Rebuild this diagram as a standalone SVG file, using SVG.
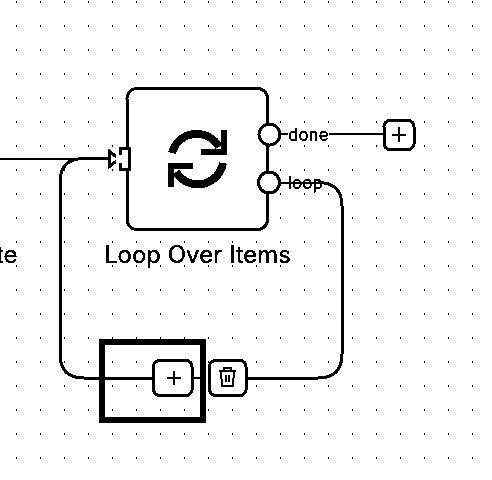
<svg xmlns="http://www.w3.org/2000/svg" width="492" height="480" viewBox="0 0 492 480" shape-rendering="crispEdges">
<defs>
<pattern id="dots" x="16" y="1" width="24" height="24" patternUnits="userSpaceOnUse"><rect width="1" height="2" fill="#000"/></pattern>
<filter id="bilevel" x="-5%" y="-20%" width="110%" height="140%"><feComponentTransfer><feFuncA type="discrete" tableValues="0 1 1 1"/></feComponentTransfer></filter>
</defs>
<style>
.l{fill:none;stroke:#000;stroke-width:2}
.c{fill:none;stroke:#000;stroke-width:3}
.b{fill:#fff;stroke:#000;stroke-width:3}
.t{font-family:"Inter","Liberation Sans",sans-serif;fill:#000;filter:url(#bilevel)}
</style>
<rect width="492" height="480" fill="#fff"/>
<rect width="492" height="480" fill="url(#dots)"/>
<g id="connectors">
<path class="l" d="M0 159H110"/>
<path class="c" d="M154 378H84Q60 378 60 354V182Q60 158.500 84 158.500H110"/>
<path class="l" d="M280 134H288M329 134H384"/>
<path class="l" d="M280 182.500H320"/>
<path class="c" d="M318 182.500Q342 182.500 342 206V354Q342 378 318 378H246"/>
<path class="l" d="M192 378H209"/>
</g>
<g id="highlight"><rect x="102" y="342" width="101" height="78" fill="none" stroke="#000" stroke-width="6"/></g>
<g id="loop-node">
<rect class="b" x="127" y="88.500" width="140.500" height="141" rx="10"/>
<path d="M109 151L119 159L109 167Z" fill="#fff" stroke="#000" stroke-width="3"/>
<rect class="b" x="120.500" y="148" width="9" height="21.500"/>
<rect x="115.500" y="155" width="6.500" height="8" fill="#fff"/>
<path d="M172 153A25.500 25.500 0 0 1 219 147M223 163A25.500 25.500 0 0 1 176 172" fill="none" stroke="#000" stroke-width="8"/>
<path d="M227 130V155H201V149H221V130ZM168 187V163H193V169H174V187Z" fill="#000"/>
<circle class="b" cx="269.500" cy="134.500" r="10.500"/>
<circle class="b" cx="269" cy="182.500" r="10.500"/>
<text class="t" x="288" y="141" font-size="17">done</text>
<text class="t" x="288" y="189" font-size="17">loop</text>
<text class="t" x="197.500" y="263" font-size="24" text-anchor="middle">Loop Over Items</text>
</g>
<g id="left-label"><text class="t" x="-4" y="263" font-size="24">te</text></g>
<g id="add-done">
<rect class="b" x="384" y="120.500" width="30" height="29" rx="6"/>
<path class="l" d="M392 134.500H406M399 127V142"/>
</g>
<g id="add-loop">
<rect class="b" x="153.500" y="360.500" width="38.500" height="35" rx="6"/>
<path class="l" d="M167 378H181M174 371V385"/>
</g>
<g id="delete">
<rect x="206" y="365" width="2.500" height="27" fill="#fff"/>
<rect class="b" x="209.500" y="360.500" width="36.500" height="35" rx="6"/>
<path class="l" d="M219 371H236M224 371V368H231V371M221 371L222 386H233L234 371M226 375V382M229 375V382"/>
</g>
</svg>
